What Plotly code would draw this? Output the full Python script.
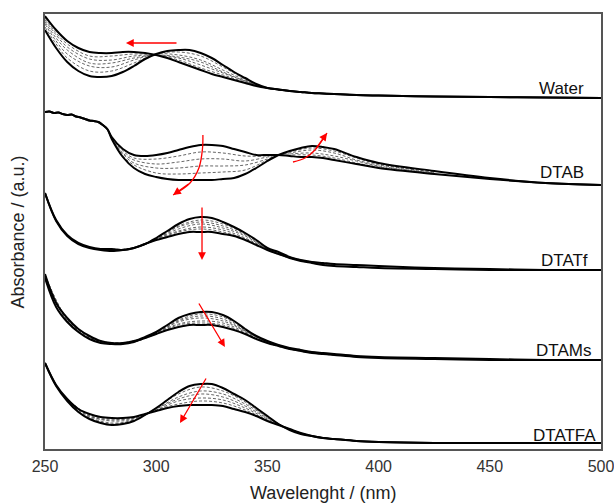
import plotly.graph_objects as go

# ---------------- data ----------------
WL = [250, 255, 260, 265, 270, 275, 280, 285, 290, 295, 300, 305, 310, 315, 320, 325, 330,
      335, 340, 345, 350, 355, 360, 365, 370, 375, 380, 390, 400, 425, 450, 475, 500]

names = ["Water", "DTAB", "DTATf", "DTAMs", "DTATFA"]
offsets = [3.51, 2.64, 1.79, 0.89, 0.06]

# Water
water_initial = [.68, .50, .36, .27, .22, .21, .22, .26, .32, .39, .44, .47, .48, .48, .45, .40, .33,
                 .26, .20, .14, .10, .085, .07, .06, .05, .045, .04, .03, .025, .015, .01, .005, 0]
water_final = [.82, .68, .57, .50, .46, .45, .45, .46, .46, .45, .43, .40, .36, .32, .28, .24, .21,
               .18, .15, .12, .10, .085, .07, .06, .05, .045, .04, .03, .025, .015, .01, .005, 0]
water_dash_wl = [250, 255, 260, 270, 280, 290, 300, 310, 320, 330, 340, 350, 360]
water_dashed = [
    [.80, .65, .54, .42, .42, .44, .43, .38, .30, .23, .16, .10, .07],
    [.78, .63, .51, .39, .38, .42, .43, .40, .33, .25, .17, .10, .07],
    [.76, .60, .48, .35, .35, .40, .43, .41, .36, .26, .17, .10, .07],
    [.74, .57, .44, .32, .31, .38, .44, .43, .38, .28, .18, .10, .07],
    [.71, .54, .40, .27, .27, .35, .44, .46, .42, .31, .19, .10, .07],
]

# DTAB (noisy at short wavelength)
WL_DTAB = [250, 252, 254, 256, 258, 260, 262, 264, 266, 268, 270, 272, 274, 276, 278,
           280, 285, 290, 295, 300, 305, 310, 315, 320, 325, 330, 335, 340, 345, 350, 355,
           360, 365, 370, 375, 380, 390, 400, 425, 450, 475, 500]
dtab_initial = [.73, .735, .72, .725, .71, .70, .705, .685, .675, .66, .645, .64, .63, .60, .56,
                .48, .36, .30, .29, .30, .32, .35, .38, .40, .40, .39, .36, .33, .30, .30, .30,
                .29, .28, .28, .27, .25, .21, .17, .11, .06, .02, 0]
dtab_final = [.73, .735, .72, .725, .71, .70, .705, .685, .675, .66, .645, .64, .63, .60, .56,
              .46, .28, .17, .11, .08, .06, .05, .05, .05, .05, .06, .07, .11, .17, .24, .30,
              .34, .37, .39, .38, .36, .28, .22, .14, .07, .02, 0]
dtab_dash_wl = [280, 285, 290, 300, 310, 320, 330, 340, 350, 355, 360, 370, 380, 390, 400, 425]
dtab_dashed = [
    [.47, .34, .27, .26, .29, .33, .32, .29, .29, .30, .30, .30, .27, .22, .18, .12],
    [.47, .32, .25, .21, .23, .26, .26, .24, .28, .30, .31, .32, .29, .24, .19, .12],
    [.46, .31, .22, .17, .17, .19, .19, .20, .26, .30, .32, .35, .32, .25, .20, .13],
    [.46, .29, .20, .12, .11, .12, .13, .15, .25, .30, .33, .37, .34, .27, .21, .13],
]

# DTATf
dtatf_initial = [.77, .50, .35, .27, .23, .21, .21, .20, .22, .26, .32, .39, .46, .51, .53, .52, .48,
                 .43, .37, .30, .22, .18, .13, .10, .08, .07, .06, .05, .04, .02, .01, 0, 0]
dtatf_final = [.77, .49, .34, .26, .22, .20, .19, .20, .22, .26, .30, .33, .36, .38, .38, .38, .36,
               .34, .30, .25, .20, .16, .12, .09, .07, .05, .04, .03, .02, .01, 0, 0, 0]
dtatf_dash_wl = [280, 290, 300, 310, 320, 330, 340, 350, 360, 370, 380]
dtatf_dashed = [
    [.19, .22, .30, .38, .41, .38, .31, .20, .12, .07, .04],
    [.20, .22, .31, .39, .43, .40, .32, .21, .12, .07, .05],
    [.20, .22, .31, .41, .46, .42, .34, .21, .12, .08, .05],
    [.20, .22, .31, .43, .48, .44, .35, .21, .13, .08, .05],
    [.21, .22, .32, .44, .50, .46, .36, .22, .13, .08, .06],
]

# DTAMs
dtams_initial = [.86, .57, .42, .31, .24, .19, .17, .17, .19, .23, .28, .35, .42, .46, .48, .48, .45,
                 .39, .31, .24, .19, .15, .12, .10, .08, .07, .06, .04, .03, .02, .01, 0, 0]
dtams_final = [.82, .53, .38, .28, .21, .17, .16, .16, .18, .22, .26, .30, .33, .35, .35, .35, .33,
               .30, .26, .21, .17, .14, .11, .09, .07, .06, .05, .03, .02, .01, 0, 0, 0]
dtams_dash_wl = [250, 260, 270, 280, 290, 300, 310, 320, 330, 340, 350, 360, 370, 380]
dtams_dashed = [
    [.83, .39, .21, .16, .18, .26, .35, .37, .35, .27, .17, .11, .07, .05],
    [.83, .39, .22, .16, .18, .27, .36, .39, .37, .28, .18, .11, .07, .05],
    [.84, .40, .22, .17, .18, .27, .38, .42, .39, .29, .18, .12, .08, .06],
    [.85, .41, .23, .17, .19, .27, .39, .44, .41, .29, .18, .12, .08, .06],
    [.85, .41, .23, .17, .19, .28, .40, .46, .43, .30, .19, .12, .08, .06],
]

# DTATFA
dtatfa_initial = [.80, .57, .42, .31, .24, .20, .18, .19, .22, .28, .35, .43, .51, .57, .59, .59, .55,
                  .49, .43, .35, .27, .19, .13, .09, .07, .05, .04, .02, .01, 0, 0, 0, 0]
dtatfa_final = [.80, .58, .44, .34, .29, .26, .25, .25, .26, .29, .32, .35, .37, .38, .38, .38, .37,
                .34, .31, .27, .22, .18, .14, .10, .07, .05, .04, .02, .01, 0, 0, 0, 0]
dtatfa_dash_wl = [260, 270, 280, 290, 300, 310, 320, 330, 340, 350, 360, 370, 380]
dtatfa_dashed = [
    [.44, .28, .24, .25, .33, .39, .42, .40, .33, .23, .14, .07, .04],
    [.43, .27, .23, .25, .33, .42, .45, .43, .35, .24, .14, .07, .04],
    [.43, .27, .22, .24, .34, .44, .49, .46, .37, .25, .14, .07, .04],
    [.43, .26, .20, .23, .34, .46, .52, .49, .39, .26, .13, .07, .04],
    [.42, .25, .19, .23, .35, .49, .56, .52, .41, .26, .13, .07, .04],
]

panels = [
    (WL, water_initial, water_final, water_dash_wl, water_dashed),
    (WL_DTAB, dtab_initial, dtab_final, dtab_dash_wl, dtab_dashed),
    (WL, dtatf_initial, dtatf_final, dtatf_dash_wl, dtatf_dashed),
    (WL, dtams_initial, dtams_final, dtams_dash_wl, dtams_dashed),
    (WL, dtatfa_initial, dtatfa_final, dtatfa_dash_wl, dtatfa_dashed),
]

# label anchors (wavelength of right edge, height above baseline)
label_x = [493.3, 493.3, 495.0, 496.4, 498.7]
label_dy = [0.10, 0.13, 0.10, 0.10, 0.08]

# red arrows: straight (start -> end) and curved paths
straight_arrows = [
    ((309.8, 4.06), (286.4, 4.06)),
    ((320.6, 2.43), (320.6, 1.89)),
    ((318.8, 1.47), (330.9, 1.02)),
    ((322.8, 0.72), (310.7, 0.26)),
]
curved_arrows = [
    ([321.0, 320.8, 319.2, 315.2, 307.6], [3.14, 3.00, 2.81, 2.66, 2.54]),
    ([361.5, 366.9, 371.4, 376.8], [2.87, 2.91, 2.99, 3.16]),
]

# ---------------- figure ----------------
fig = go.Figure()

for (wl, ini, fin, dwl, dash), off in zip(panels, offsets):
    for row in dash:
        fig.add_trace(go.Scatter(x=dwl, y=[v + off for v in row], mode="lines",
                                 line=dict(color="#555555", width=0.9, dash="3px,2px", shape="spline"),
                                 hoverinfo="skip", showlegend=False))
    for curve in (ini, fin):
        fig.add_trace(go.Scatter(x=wl, y=[v + off for v in curve], mode="lines",
                                 line=dict(color="black", width=2, shape="spline"),
                                 hoverinfo="skip", showlegend=False))

for xs, ys in curved_arrows:
    fig.add_trace(go.Scatter(x=xs, y=ys, mode="lines",
                             line=dict(color="red", width=1.3, shape="spline"),
                             hoverinfo="skip", showlegend=False))

annotations = []
for (x0, y0), (x1, y1) in straight_arrows:
    annotations.append(dict(x=x1, y=y1, ax=x0, ay=y0, xref="x", yref="y", axref="x", ayref="y",
                            text="", showarrow=True, arrowhead=2, arrowsize=1.2,
                            arrowwidth=1.3, arrowcolor="red"))
for xs, ys in curved_arrows:
    annotations.append(dict(x=xs[-1], y=ys[-1], ax=xs[-2], ay=ys[-2], xref="x", yref="y",
                            axref="x", ayref="y", text="", showarrow=True, arrowhead=2,
                            arrowsize=1.2, arrowwidth=1.3, arrowcolor="red"))

for name, off, lx, dy in zip(names, offsets, label_x, label_dy):
    annotations.append(dict(x=lx, y=off + dy, xref="x", yref="y", text=name, showarrow=False,
                            xanchor="right", yanchor="middle",
                            font=dict(family="Liberation Sans, Arial", size=17, color="#111111")))

annotations.append(dict(x=0.5, y=-0.101, xref="paper", yref="paper", text="Wavelenght / (nm)",
                        showarrow=False, xanchor="center", yanchor="middle",
                        font=dict(family="Liberation Sans, Arial", size=18, color="#222222")))
annotations.append(dict(x=-0.0486, y=0.5, xref="paper", yref="paper", text="Absorbance / (a.u.)",
                        showarrow=False, xanchor="center", yanchor="middle", textangle=-90,
                        font=dict(family="Liberation Sans, Arial", size=18, color="#222222")))

fig.update_layout(
    width=614, height=504,
    margin=dict(l=45, r=13, t=14, b=55, autoexpand=False),
    paper_bgcolor="white", plot_bgcolor="white",
    annotations=annotations,
    showlegend=False,
)
fig.update_xaxes(range=[250, 500], tickvals=[250, 300, 350, 400, 450, 500],
                 showgrid=False, zeroline=False, ticks="", showline=True, mirror=True,
                 linecolor="#555555", linewidth=1.5, ticklabelstandoff=2,
                 ticklabeloverflow="allow", automargin=False,
                 tickfont=dict(family="Liberation Sans, Arial", size=16, color="#333333"))
fig.update_yaxes(range=[0, 4.35], showticklabels=False, showgrid=False, zeroline=False,
                 ticks="", showline=True, mirror=True, linecolor="#555555", linewidth=1.5,
                 automargin=False)

# remove the browser's default body margin so the 614x504 figure fills the window exactly
fig.write_html("out.html", config={"displayModeBar": False},
               post_script="document.body.style.margin='0';document.body.style.overflow='hidden';")
